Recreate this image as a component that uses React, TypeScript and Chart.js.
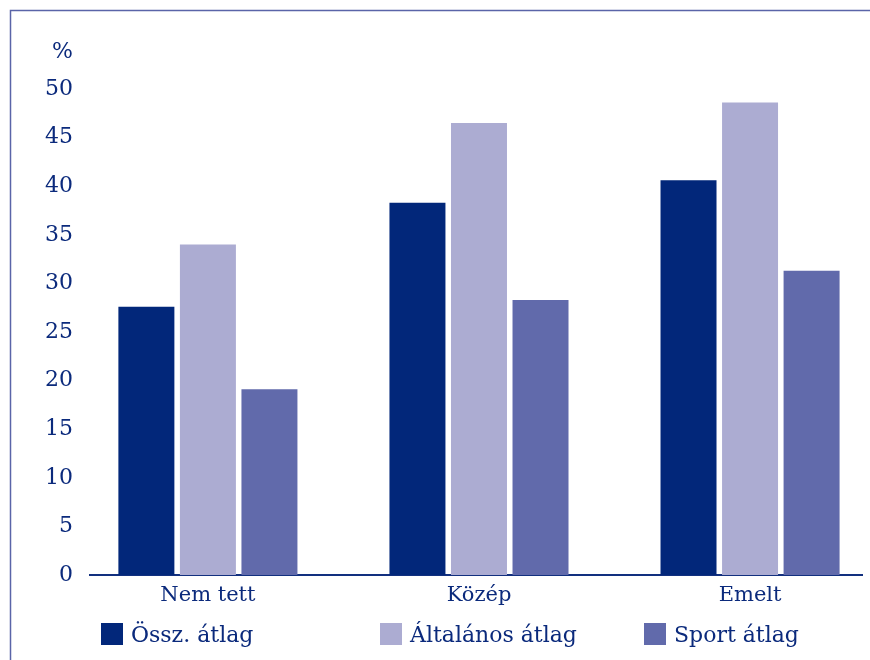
import React, { useEffect, useRef } from "react";
import { Chart, registerables } from "chart.js";

Chart.register(...registerables);

const categories = ["Nem tett", "Közép", "Emelt"];
const seriesNames = ["Össz. átlag", "Általános átlag", "Sport átlag"];
const osszAtlag = [27.6, 38.3, 40.6];
const altalanosAtlag = [34.0, 46.5, 48.6];
const sportAtlag = [19.1, 28.3, 31.3];
const yTicks = [0, 5, 10, 15, 20, 25, 30, 35, 40, 45, 50];

const colors = ["#02277a", "#acacd2", "#616aab"];
const textColor = "#0b2a7c";
const fontFamily = "'DejaVu Serif', serif";

export default function App() {
  const ref = useRef<HTMLCanvasElement | null>(null);

  useEffect(() => {
    if (!ref.current) return;
    const seriesValues = [osszAtlag, altalanosAtlag, sportAtlag];

    const decor = {
      id: "decor",
      beforeDraw(chart: any) {
        const ctx = chart.ctx;
        ctx.save();
        ctx.fillStyle = "#ffffff";
        ctx.fillRect(0, 0, chart.width, chart.height);
        ctx.strokeStyle = "#5a64a8";
        ctx.lineWidth = 1.5;
        ctx.strokeRect(10.5, 10.5, chart.width + 10, chart.height + 10);
        ctx.restore();
      },
      afterDraw(chart: any) {
        const ctx = chart.ctx;
        ctx.save();
        ctx.fillStyle = textColor;
        ctx.font = `22px ${fontFamily}`;
        ctx.textAlign = "right";
        ctx.textBaseline = "alphabetic";
        ctx.fillText("%", 73, 58);
        // legend
        const xs = [101, 380, 644];
        ctx.font = `22px ${fontFamily}`;
        ctx.textAlign = "left";
        chart.data.datasets.forEach((ds: any, i: number) => {
          ctx.fillStyle = ds.backgroundColor;
          ctx.fillRect(xs[i], 623, 22, 22);
          ctx.fillStyle = textColor;
          ctx.fillText(ds.label, xs[i] + 30, 642);
        });
        ctx.restore();
      },
    };

    const chart = new Chart(ref.current, {
      type: "bar",
      data: {
        datasets: seriesNames.map((name, i) => ({
          label: name,
          data: seriesValues[i].map((v, j) => ({ x: j, y: v })),
          backgroundColor: colors[i],
          borderWidth: 0,
          categoryPercentage: 0.681,
          barPercentage: 0.91,
        })),
      },
      options: {
        animation: false,
        responsive: false,
        layout: { padding: { left: 0, top: 89, right: 8, bottom: 0 } },
        plugins: { legend: { display: false }, tooltip: { enabled: false } },
        scales: {
          x: {
            type: "linear",
            offset: false,
            min: -0.435,
            max: 2.413,
            grid: { display: false, offset: false },
            border: { display: true, color: "#12307f", width: 2 },
            afterBuildTicks: (scale: any) => {
              scale.ticks = categories.map((_, i) => ({ value: i }));
            },
            afterFit: (scale: any) => {
              scale.height = 85;
            },
            ticks: {
              autoSkip: false,
              maxRotation: 0,
              padding: 0,
              color: textColor,
              font: { family: fontFamily, size: 21 },
              callback: (v: any) => categories[v as number] ?? "",
            },
          },
          y: {
            min: 0,
            max: 50,
            grid: { display: false },
            border: { display: false },
            afterBuildTicks: (scale: any) => {
              scale.ticks = yTicks.map((v) => ({ value: v }));
            },
            afterFit: (scale: any) => {
              scale.width = 90;
            },
            ticks: {
              padding: 9,
              color: textColor,
              font: { family: fontFamily, size: 22 },
            },
          },
        },
      },
      plugins: [decor],
    } as any);

    return () => chart.destroy();
  }, []);

  return (
    <div style={{ position: "absolute", left: 0, top: 0, width: 870, height: 660 }}>
      <canvas ref={ref} width={870} height={660} />
    </div>
  );
}
